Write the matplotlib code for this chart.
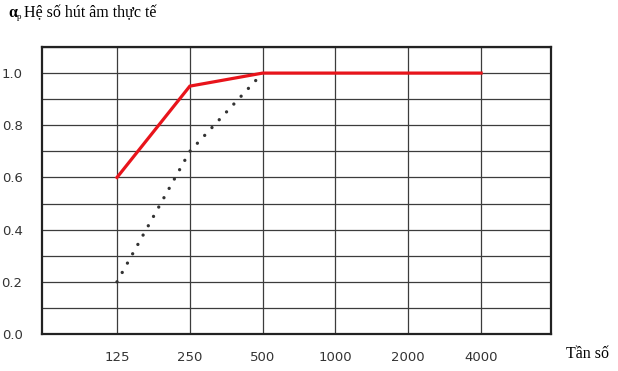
import matplotlib
matplotlib.use('Agg')
import matplotlib.pyplot as plt
import numpy as np

freq_labels = ['125', '250', '500', '1000', '2000', '4000']
alpha_real = [0.6, 0.95, 1.0, 1.0, 1.0, 1.0]
dotted_labels = ['125', '250', '500']
alpha_dotted = [0.2, 0.7, 1.0]

fig = plt.figure(figsize=(6.18, 3.71), dpi=100)
ax = fig.add_axes([42/618, 1 - 334/371, (551-42)/618, (334-47)/371])

x = np.arange(len(freq_labels))
xd = np.arange(len(dotted_labels))

ax.plot(x, alpha_real, color='#e8141b', lw=2.3, solid_joinstyle='miter', zorder=3)
ax.plot(xd, alpha_dotted, color='#333333', lw=2.4, linestyle=(0, (0.01, 3.2)),
        dash_capstyle='round', zorder=3)

ax.set_xlim(-1.03, 5.96)
ax.set_ylim(0, 1.1)
ax.set_xticks(x)
ax.set_xticklabels(freq_labels)
ax.set_yticks(np.arange(0, 1.01, 0.2))
ax.set_yticklabels(['0.0', '0.2', '0.4', '0.6', '0.8', '1.0'])
ax.set_yticks(np.arange(0, 1.11, 0.1), minor=True)
ax.grid(True, which='both', axis='y', color='#3c3c3c', lw=0.9)
ax.grid(True, which='major', axis='x', color='#3c3c3c', lw=0.9)
ax.tick_params(which='both', length=0)
ax.tick_params(axis='x', pad=12, labelsize=9.5, colors='#333333')
ax.tick_params(axis='y', pad=14, labelsize=9.5, colors='#333333')
for lab in ax.get_xticklabels() + ax.get_yticklabels():
    lab.set_family('DejaVu Sans')
for s in ax.spines.values():
    s.set_linewidth(1.6)
    s.set_color('#222222')

fig.text(8/618, 1 - 17/371, 'α', family='Liberation Serif', weight='bold',
         fontsize=11.5, va='baseline')
fig.text(17/618, 1 - 19/371, 'p', family='Liberation Serif', fontsize=6.5,
         va='baseline')
fig.text(23.5/618, 1 - 17/371, 'Hệ số hút âm thực tế', family='Liberation Serif',
         fontsize=11.5, va='baseline')
fig.text(566/618, 1 - 358/371, 'Tần số', family='Liberation Serif',
         fontsize=11.5, va='baseline')

plt.savefig('out.png', dpi=100)
